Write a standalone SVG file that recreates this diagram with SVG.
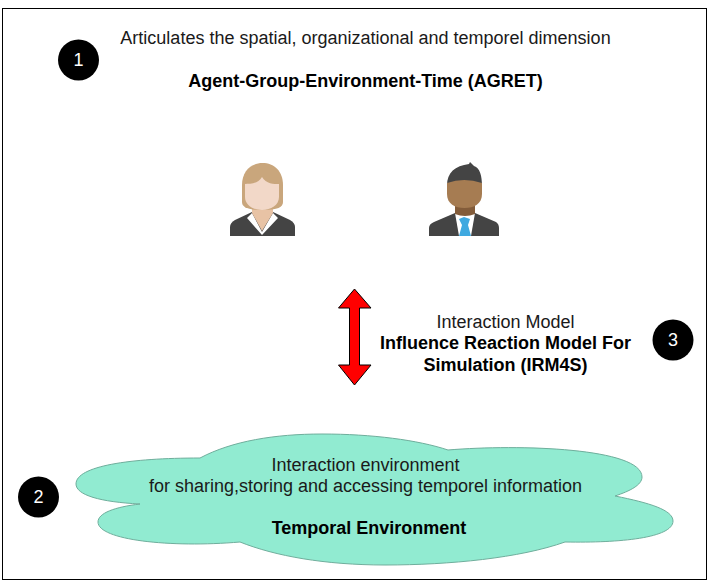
<svg xmlns="http://www.w3.org/2000/svg" width="715" height="587" viewBox="0 0 715 587">
<style>
text{font-family:"Liberation Sans",Arial,sans-serif;font-size:18px;fill:#1a1a1a;text-anchor:middle}
.b{font-weight:bold;fill:#000}
.badge{fill:#000}
.num{fill:#fff;font-size:18px}
</style>
<rect width="715" height="587" fill="#fff"/>
<rect x="2.500" y="8.500" width="704" height="571" fill="#fff" stroke="#000"/>
<g id="cloud">
<path d="M200 458C232 441 275 434 322 434C372 434 418 440 448 450C520 444 642 448 642 477C642 485 630 491 615 496C650 503 673 510 673 521C673 538 620 543 565 542C520 558 450 565 385 565C325 565 275 556 240 542C170 548 98 540 98 522C98 513 115 507 140 504C100 502 76 495 76 484C76 466 130 458 200 458Z" fill="#91ebd1" stroke="#6fae9c"/>
<text x="365.500" y="471">Interaction environment</text>
<text x="365.500" y="492">for sharing,storing and accessing temporel information</text>
<text x="369" y="534" class="b">Temporal Environment</text>
</g>
<g id="header">
<text x="365.500" y="44">Articulates the spatial, organizational and temporel dimension</text>
<text x="365.500" y="87" class="b">Agent-Group-Environment-Time (AGRET)</text>
</g>
<g id="badge1"><circle cx="78.500" cy="60" r="20.500" class="badge"/><text x="78.500" y="66" class="num">1</text></g>
<g id="badge2"><circle cx="38.500" cy="497" r="20.500" class="badge"/><text x="38.500" y="503" class="num">2</text></g>
<g id="badge3"><circle cx="673" cy="340" r="20.500" class="badge"/><text x="673" y="346" class="num">3</text></g>
<g id="woman">
<path d="M230 236V227Q230 223 235 220L252 212H273L290 220Q295 223 295 227V236Z" fill="#444"/>
<path d="M247 218L252 213L262 232L273 213L278 218L262 235Z" fill="#fff"/>
<path d="M252 205H273V213L262 231L252 213Z" fill="#e8c3a5"/>
<path d="M242 185C242 171 251 163 262.500 163C274 163 283 171 283 185V202C283 207 278 210 262.500 210C247 210 242 207 242 202Z" fill="#c9a67c"/>
<path d="M245 184C250 184 258 184 262 177C266 184 274 184 279 184V197C279 205 271 210 262 210C253 210 245 205 245 197Z" fill="#f2d8c8"/>
</g>
<g id="man">
<path d="M429 236V228Q429 224 434 222L455 213H475L496 222Q499 224 499 228V236Z" fill="#444"/>
<path d="M455 213H475L471 236H459Z" fill="#fff"/>
<path d="M455 205H475V214Q465 218 455 214Z" fill="#835c3a"/>
<path d="M459 219L464 217L470 219L468 225L471 236H459L462 225Z" fill="#3fa9e0"/>
<path d="M447 186C447 172 455 166 469 164L470 162L474 166C480 168 482 176 482 186V190H447Z" fill="#444"/>
<path d="M447 183Q464 177 482 183V194C482 204 474 208 464.500 208C455 208 447 204 447 194Z" fill="#a67c52"/>
</g>
<g id="connectors">
<path d="M354.500 289L371 308H359.500V365H371L354.500 385L338.500 365H349.500V308H338.500Z" fill="#f00" stroke="#000"/>
</g>
<g id="label3">
<text x="505.500" y="328">Interaction Model</text>
<text x="505.500" y="349" class="b">Influence Reaction Model For</text>
<text x="505.500" y="371" class="b">Simulation (IRM4S)</text>
</g>
</svg>
